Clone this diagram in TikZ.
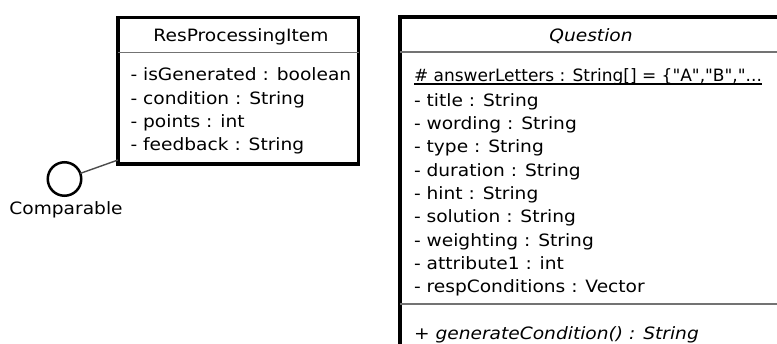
\documentclass[tikz,border=0pt]{standalone}
\usepackage{fontspec}
\setmainfont{DejaVu Sans}[FakeStretch=1.095]
\newfontfamily\plainfont{DejaVu Sans}
\newcommand\umlsize{\fontsize{17}{20}\selectfont}
\begin{document}
\begin{tikzpicture}[x=1pt,y=-1pt,
  box/.style={draw=black, line width=3.5pt, rectangle, inner sep=0pt, outer sep=0pt, anchor=north west},
  txt/.style={inner sep=0pt, outer sep=0pt, anchor=base west, font=\umlsize},
  ttl/.style={inner sep=0pt, outer sep=0pt, anchor=base, font=\umlsize},
  sepline/.style={draw=black!55, line width=1.4pt},
  conn/.style={draw=black!70, line width=1.4pt},
  iface/.style={draw=black, circle, line width=2.5pt, minimum size=33.5pt, inner sep=0pt, outer sep=0pt}]
\useasboundingbox (0,0) rectangle (777,343);
\clip (0,0) rectangle (777,343);
\fill[white] (0,0) rectangle (777,343);

% ResProcessingItem
\node[box, minimum width=240.5pt, minimum height=146.5pt] (res) at (118,17.5) {};
\draw[sepline] (res.west |- 0,52.5) -- (res.east |- 0,52.5);
\node[ttl] (resT) at (241,41.7) {ResProcessingItem};
\node[txt] (r1) at (130.5,80.7) {- isGenerated : boolean};
\node[txt] (r2) at (130.5,104) {- condition : String};
\node[txt] (r3) at (130.5,127) {- points : int};
\node[txt] (r4) at (130.5,150) {- feedback : String};

% Comparable interface
\node[iface] (ifc) at (64.5,179) {};
\node[ttl] (ifcL) at (66,214) {Comparable};
\draw[conn] (ifc) -- ([yshift=4pt]res.south west);

% Question
\node[box, minimum width=383pt, minimum height=400pt] (q) at (400,17) {};
\draw[sepline] (q.west |- 0,52) -- (q.east |- 0,52);
\draw[sepline] (q.west |- 0,304) -- (q.east |- 0,304);
\node[ttl] (qT) at (591,41) {\itshape Question};
\node[txt, font=\plainfont\umlsize] (q0) at (414,81) {\# answerLetters : String[] = \{"A","B","...};
\draw[line width=1.4pt] ([yshift=-3pt]q0.base west) -- ([yshift=-3pt]q0.base east);
\node[txt] (q1) at (414,106) {- title : String};
\node[txt] (q2) at (414,129.3) {- wording : String};
\node[txt] (q3) at (414,152.6) {- type : String};
\node[txt] (q4) at (414,176) {- duration : String};
\node[txt] (q5) at (414,199.3) {- hint : String};
\node[txt] (q6) at (414,222.6) {- solution : String};
\node[txt] (q7) at (414,246) {- weighting : String};
\node[txt] (q8) at (414,269.3) {- attribute1 : int};
\node[txt] (q9) at (414,292.6) {- respConditions : Vector};
\node[txt] (qm) at (414,339) {\itshape + generateCondition() : String};
\end{tikzpicture}
\end{document}
